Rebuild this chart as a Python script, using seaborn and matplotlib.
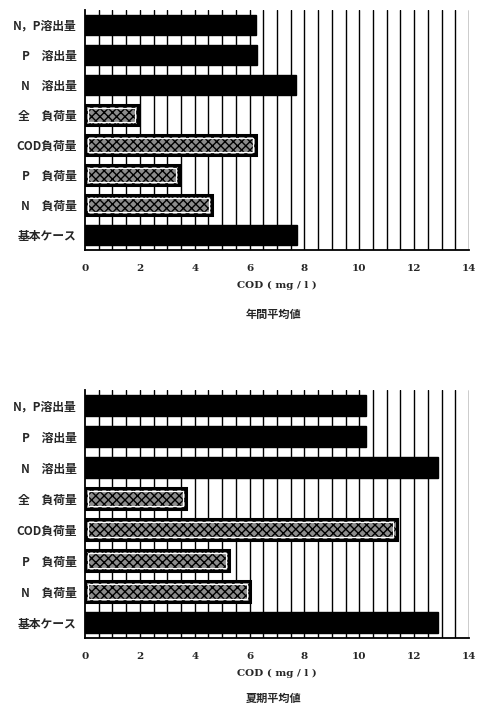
import matplotlib.pyplot as plt
import seaborn as sns
import pandas as pd
import numpy as np
from matplotlib.ticker import MultipleLocator

sns.set_style("white")
plt.rcParams['font.family'] = ['Noto Sans CJK JP', 'DejaVu Sans']

# ケース名
cases = ["N，P溶出量", "P　溶出量", "N　溶出量", "全　負荷量",
         "COD負荷量", "P　負荷量", "N　負荷量", "基本ケース"]
kind = ["溶出", "溶出", "溶出", "負荷", "負荷", "負荷", "負荷", "基本"]

# COD (mg/l)
cod_year = [6.25, 6.27, 7.70, 1.94, 6.24, 3.43, 4.63, 7.72]
cod_summer = [10.24, 10.24, 12.88, 3.70, 11.36, 5.25, 6.03, 12.88]

titles = ["年間平均値", "夏期平均値"]

fig = plt.figure(figsize=(4.83, 7.06), dpi=100)
ax1 = fig.add_axes([0.176, 0.646, 0.795, 0.340])
ax2 = fig.add_axes([0.176, 0.0963, 0.795, 0.351])
title_y = [0.555, 0.011]

for ax, vals, title, ty in zip([ax1, ax2], [cod_year, cod_summer], titles, title_y):
    df = pd.DataFrame({"case": cases, "cod": vals, "kind": kind})
    sns.barplot(data=df, x="cod", y="case", ax=ax, color="black",
                width=0.68, zorder=3, saturation=1)
    for p, k in zip(ax.patches, kind):
        if k == "負荷":
            p.set_facecolor("#8c8c8c")
            p.set_hatch("xxxx")
            p.set_edgecolor("black")
            p.set_linewidth(2.2)
            # 内側の白い縁取り
            x0, y0 = p.get_x(), p.get_y()
            w, h = p.get_width(), p.get_height()
            ax.add_patch(plt.Rectangle((x0 + 0.12, y0 + 0.11), w - 0.24, h - 0.22,
                                       fill=False, edgecolor="white", lw=0.9, zorder=4))
        else:
            p.set_facecolor("black")
            p.set_edgecolor("black")

    ax.set_xlim(0, 14)
    ax.set_ylim(7.5, -0.5)
    for gx in np.arange(0.5, 14.01, 0.5):
        ax.axvline(gx, color="black", lw=1.0, zorder=1)

    ax.xaxis.set_major_locator(MultipleLocator(2))
    ax.xaxis.set_minor_locator(MultipleLocator(0.5))
    ax.set_yticks(np.arange(-0.5, 7.6, 1.0), minor=True)
    ax.tick_params(axis="x", which="major", length=4, width=1.2, direction="inout",
                   labelsize=7.5, pad=8, color="black")
    ax.tick_params(axis="x", which="minor", length=2, width=1, direction="inout")
    ax.tick_params(axis="y", which="major", length=0, labelsize=8.5, pad=6)
    ax.tick_params(axis="y", which="minor", length=5, width=1.2, direction="inout")
    for lab in ax.get_xticklabels():
        lab.set_fontweight("bold")
        lab.set_family(["DejaVu Serif"])
    for lab in ax.get_yticklabels():
        lab.set_fontweight("bold")

    for s in ["top", "right"]:
        ax.spines[s].set_visible(False)
    for s in ["left", "bottom"]:
        ax.spines[s].set_color("black")
        ax.spines[s].set_linewidth(1.3)

    ax.set_ylabel("")
    ax.set_xlabel("COD ( mg / l )", fontsize=7.5, fontweight="bold",
                  family=["DejaVu Serif"], labelpad=6)
    fig.text(0.566, ty, title, ha="center", va="center",
             fontsize=8, fontweight="bold")

fig.savefig("out.png", dpi=100)
